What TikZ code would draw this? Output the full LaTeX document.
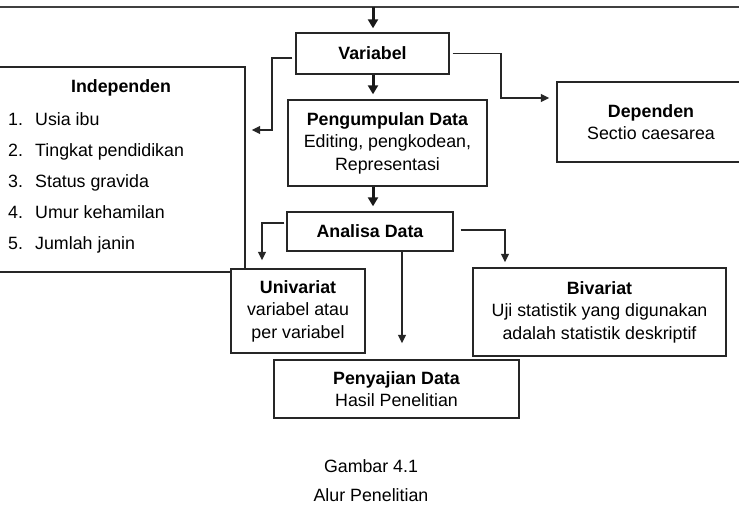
\documentclass[tikz,border=0pt]{standalone}
\usepackage{fontspec}
\setmainfont{Liberation Sans}
\usetikzlibrary{arrows.meta,calc}
\newcommand\dgfont{\fontsize{17.8}{22.5}\selectfont}
\begin{document}
\begin{tikzpicture}[x=1pt,y=-1pt,
  box/.style={draw=black!85, line width=1.4pt, fill=white, inner sep=0pt, align=center, font=\dgfont},
  conn/.style={draw=black!85, line width=1.4pt, -{Triangle[length=8.5pt,width=8pt]}},
  thk/.style={draw=black!90, line width=3pt, -{Triangle[length=9pt,width=10pt]}},
  lbl/.style={font=\dgfont, inner sep=0pt}
]
\useasboundingbox (0,0) rectangle (739,512);
\fill[white] (0,0) rectangle (739,512);
% top frame line
\coordinate (tl) at (-5,7);
\coordinate (tr) at (745,7);
\coordinate (topc) at (373,7);
\draw[line width=2pt, black!75] (tl) -- (tr);
% boxes
\node[box, minimum width=250pt, minimum height=205pt] (indep) at (120,169.5) {};
\node[lbl, font=\dgfont\bfseries] (indeptitle) at (121,88) {Independen};
\node[lbl, anchor=base west] (i1) at (8,125) {\makebox[27pt][l]{1.}Usia ibu};
\node[lbl, anchor=base west] (i2) at (8,156) {\makebox[27pt][l]{2.}Tingkat pendidikan};
\node[lbl, anchor=base west] (i3) at (8,187) {\makebox[27pt][l]{3.}Status gravida};
\node[lbl, anchor=base west] (i4) at (8,218) {\makebox[27pt][l]{4.}Umur kehamilan};
\node[lbl, anchor=base west] (i5) at (8,249) {\makebox[27pt][l]{5.}Jumlah janin};
\node[box, minimum width=153pt, minimum height=41pt] (var) at (372.5,53.5) {\textbf{Variabel}};
\node[box, minimum width=199pt, minimum height=86pt] (peng) at (387.5,143) {\textbf{Pengumpulan Data}\\Editing, pengkodean,\\Representasi};
\node[box, minimum width=188pt, minimum height=80pt] (dep) at (651,122) {\textbf{Dependen}\\Sectio caesarea};
\node[box, minimum width=166pt, minimum height=39pt] (anal) at (370,231.5) {\textbf{Analisa Data}};
\node[box, minimum width=134pt, minimum height=84pt] (univ) at (298,311) {\textbf{Univariat}\\variabel atau\\per variabel};
\node[box, minimum width=253pt, minimum height=88pt] (biv) at (599.5,312) {\textbf{Bivariat}\\Uji statistik yang digunakan\\adalah statistik deskriptif};
\node[box, minimum width=245pt, minimum height=58pt] (peny) at (396.5,389) {\textbf{Penyajian Data}\\Hasil Penelitian};
% caption
\node[lbl] (cap1) at (371,466) {Gambar 4.1};
\node[lbl] (cap2) at (371,495) {Alur Penelitian};
% thick vertical arrows
\draw[thk, shorten >=4pt] (topc) -- (var.north -| topc);
\draw[thk, shorten >=5pt] (var.south -| topc) -- (peng.north -| topc);
\draw[thk, shorten >=5pt] (peng.south -| topc) -- (anal.north -| topc);
% connectors
\draw[conn, shorten <=3pt, shorten >=6pt] (var.west |- 0,58) -| (272,130) -- (indep.east |- 0,130);
\draw[conn, shorten <=3pt, shorten >=7pt] (var.east) -| (501,98) -- (dep.west |- 0,98);
\draw[conn, shorten <=2pt, shorten >=8pt] (anal.west |- 0,223) -| (univ.north -| 262,0);
\draw[conn, shorten <=7pt, shorten >=5pt] (anal.east |- 0,230) -| (biv.north -| 505,0);
\draw[conn, shorten >=16pt] (anal.south -| 402,0) -- (peny.north -| 402,0);
\end{tikzpicture}
\end{document}
